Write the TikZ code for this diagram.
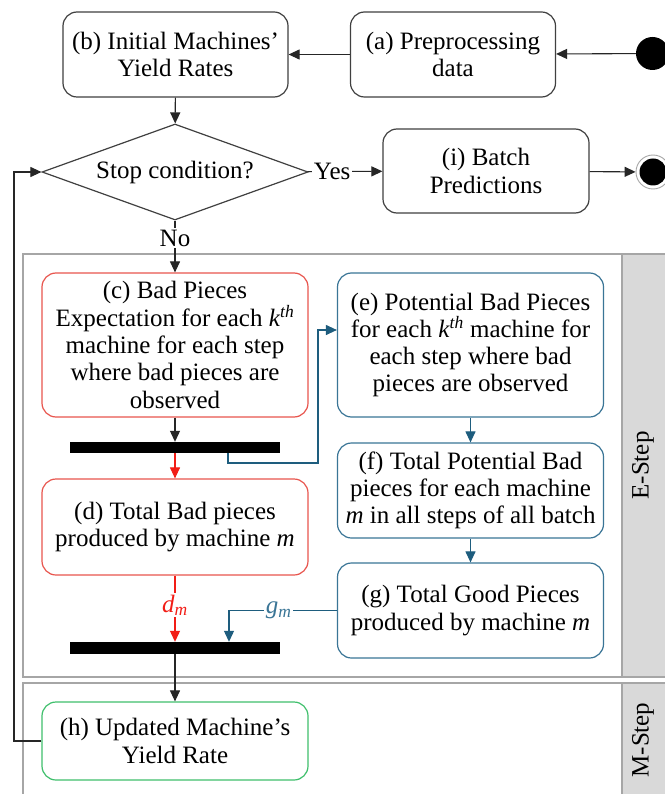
\documentclass[tikz,border=0pt]{standalone}
\usepackage{fontspec}
\setmainfont{Liberation Serif}
\usetikzlibrary{arrows.meta,shapes.geometric}
\definecolor{boxline}{HTML}{404040}
\definecolor{linegray}{HTML}{262626}
\definecolor{redbox}{HTML}{E8554E}
\definecolor{redarrow}{HTML}{F21D16}
\definecolor{bluebox}{HTML}{3A7596}
\definecolor{bluearrow}{HTML}{1E5D7E}
\definecolor{greenbox}{HTML}{3FBF6C}
\definecolor{lanegray}{HTML}{A6A6A6}
\definecolor{lanefill}{HTML}{D9D9D9}
\begin{document}
\begin{tikzpicture}[x=1pt,y=-1pt,
  font=\fontsize{25}{27.3}\selectfont,
  box/.style={draw=boxline, line width=1.2pt, rounded corners=14pt, align=center, inner sep=2pt, fill=white},
  redbox/.style={box, draw=redbox},
  bluebox/.style={box, draw=bluebox},
  greenbox/.style={box, draw=greenbox},
  barnode/.style={fill=black, draw=none, inner sep=0pt, minimum width=210pt},
  arr/.style={-{Triangle[length=11pt,width=10pt]}, line width=1.1pt, draw=linegray},
  redarr/.style={arr, draw=redarrow},
  bluearr/.style={arr, draw=bluearrow},
  lane/.style={draw=lanegray, line width=1.5pt},
  lbl/.style={fill=white, inner sep=1.5pt}
]
\useasboundingbox (0,0) rectangle (664,794);
\fill[white] (0,0) rectangle (664,794);

% swimlanes
\draw[lane] (23,254) rectangle (690,677);
\draw[lane, fill=lanefill] (622,254) rectangle (690,677);
\draw[lane] (23,683) rectangle (690,810);
\draw[lane, fill=lanefill] (622,683) rectangle (690,810);
\node[rotate=90] (estep) at (643,465.5) {E-Step};
\node[rotate=90] (mstep) at (643,740) {M-Step};

% top nodes
\node[box, minimum width=225pt, minimum height=85pt] (b) at (175.5,54.5) {(b) Initial Machines’\\Yield Rates};
\node[box, minimum width=205pt, minimum height=85pt] (a) at (453,54.5) {(a) Preprocessing\\data};
\node[circle, fill=black, inner sep=0pt, minimum size=33pt] (start) at (652.5,53.5) {};
\node[diamond, draw=boxline, line width=1.2pt, aspect=2.8, inner sep=0pt, minimum width=266pt, minimum height=96pt] (dec) at (175,172) {Stop condition?};
\node[box, minimum width=206pt, minimum height=84pt] (i) at (486,171) {(i) Batch\\Predictions};
\node[circle, draw=lanegray, line width=0.9pt, fill=white, inner sep=0pt, minimum size=34pt] (end) at (653,172) {};
\node[circle, fill=black, inner sep=0pt, minimum size=27pt] (endin) at (end.center) {};

% E-step nodes
\node[redbox, minimum width=266pt, minimum height=144pt] (c) at (175,345) {(c) Bad Pieces\\Expectation for each \textit{k}\textsuperscript{\textit{th}}\\machine for each step\\where bad pieces are\\observed};
\node[bluebox, minimum width=266pt, minimum height=144pt] (e) at (470.5,345) {(e) Potential Bad Pieces\\for each \textit{k}\textsuperscript{\textit{th}} machine for\\each step where bad\\pieces are observed};
\node[barnode, minimum height=11pt] (bar1) at (175,447.5) {};
\node[redbox, minimum width=266pt, minimum height=96pt] (d) at (175,527) {(d) Total Bad pieces\\produced by machine \textit{m}};
\node[bluebox, minimum width=266pt, minimum height=95pt] (f) at (470.5,490.5) {(f) Total Potential Bad\\pieces for each machine\\\textit{m} in all steps of all batch};
\node[bluebox, minimum width=266pt, minimum height=95pt] (g) at (470.5,610.5) {(g) Total Good Pieces\\produced by machine \textit{m}};
\node[barnode, minimum height=12pt] (bar2) at (175,648) {};

% M-step node
\node[greenbox, minimum width=266pt, minimum height=78pt] (h) at (175,741) {(h) Updated Machine’s\\Yield Rate};

% connectors
\draw[arr] (start) -- (a);
\draw[arr] (a) -- (b);
\draw[arr] (b) -- (dec);
\draw[arr] (dec) -- node[lbl, pos=0.33] {Yes} (i);
\draw[arr] (i) -- (end);
\draw[arr] (dec) -- node[lbl, pos=0.34] {No} (c);
\draw[arr] (c) -- (bar1);
\draw[redarr] (bar1) -- (d);
\coordinate (k1) at (318,463);
\draw[bluearr] ([xshift=53pt]bar1.south) |- (k1) |- ([yshift=15pt]e.west);
\draw[bluearr] (e) -- (f);
\draw[bluearr] (f) -- (g);
\draw[redarr] (d) -- node[lbl, pos=0.45, text=redarrow] {\textit{d}\textsubscript{\textit{m}}} (bar2);
\draw[bluearr] (g.west) -| node[lbl, pos=0.27, text=bluebox] {\textit{g}\textsubscript{\textit{m}}} ([xshift=54pt]bar2.north);
\draw[arr] (bar2) -- (h);
\coordinate (loop) at (14,741);
\draw[arr] (h.west) -- (loop) |- (dec.west);
\end{tikzpicture}
\end{document}
